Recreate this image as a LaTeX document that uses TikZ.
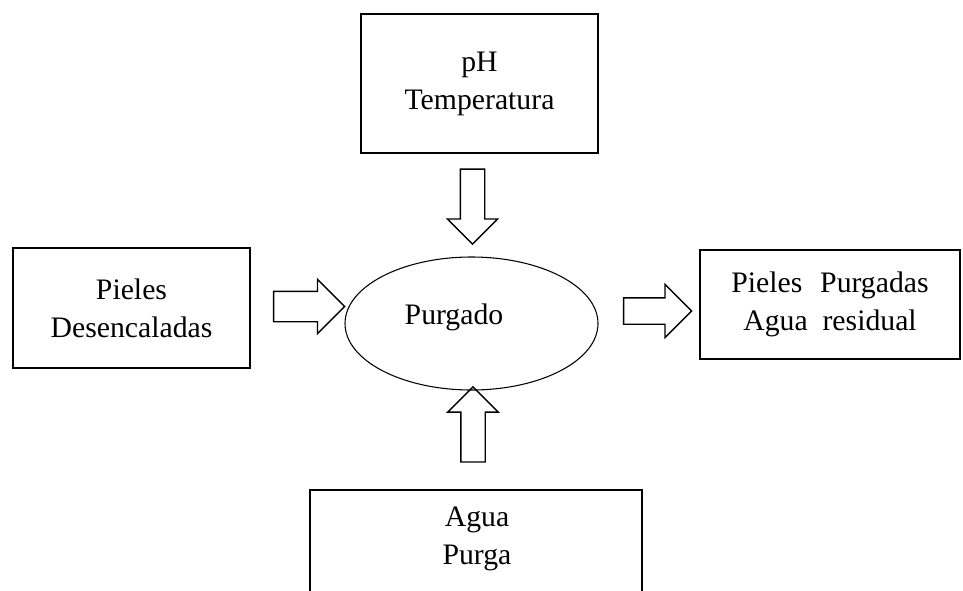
\documentclass[tikz,border=0pt]{standalone}
\usepackage{fontspec}
\setmainfont{Liberation Serif}
\usetikzlibrary{shapes.geometric,shapes.arrows}

\tikzset{
  caja/.style={draw, line width=1.5pt, align=center,
    font=\fontsize{22.3}{28.5}\selectfont},
  proceso/.style={draw, ellipse, line width=0.8pt, inner sep=0pt},
  texto/.style={align=center, font=\fontsize{22.3}{28.5}\selectfont},
  flecha/.style 2 args={draw, single arrow, line width=1pt,
    inner xsep=0pt, inner ysep=#1, single arrow head extend=#2}
}

\begin{document}
\begin{tikzpicture}[x=0.75pt,y=-0.75pt]
\useasboundingbox (0,0) rectangle (963,590);

\node[caja, minimum width=177.75pt, minimum height=104.25pt] (control) at (479.5,83.5)
{pH\\Temperatura};

\node[caja, minimum width=177.75pt, minimum height=90pt] (entrada) at (131.5,308)
{Pieles\\Desencaladas};

\node[proceso, minimum width=189.75pt, minimum height=99.75pt] (purgado) at (471.5,323.5) {};
\node[texto] (purgadotxt) at (454,317) {Purgado};

\node[caja, minimum width=195pt, minimum height=81.75pt] (salida) at (830,304.5)
{Pieles\hspace{0.6em}Purgadas\\Agua\ \ residual};

\node[caja, minimum width=249pt, minimum height=82.5pt] (insumos) at (476,545) {};
\node[texto] (insumostxt) at (477,539) {Agua\\Purga};

% flechas de bloque
\node[flecha={8.625pt}{9.75pt}, minimum height=56.25pt, rotate=-90] (fcontrol) at (472.5,200.5) {};
\node[flecha={8.625pt}{9.75pt}, minimum height=56.25pt, rotate=90] (finsumos) at (473,430.5) {};
\node[flecha={10.875pt}{9pt}, minimum height=53.25pt] (fentrada) at (301.5,306.5) {};
\node[flecha={9.375pt}{10.125pt}, minimum height=51pt] (fsalida) at (651,311) {};
\end{tikzpicture}
\end{document}
